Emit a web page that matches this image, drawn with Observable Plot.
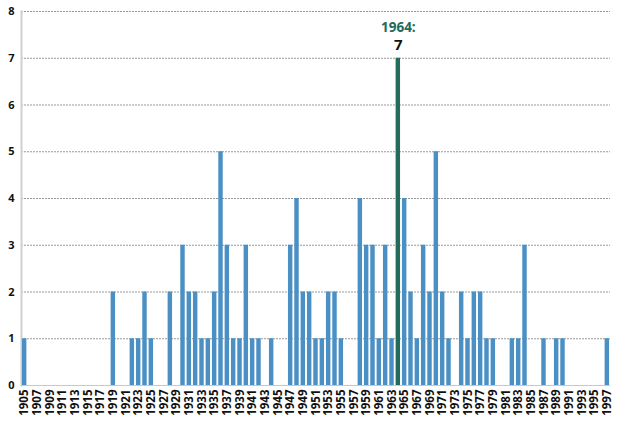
<!DOCTYPE html>
<html>
<head>
<meta charset="utf-8">
<script src="https://cdn.jsdelivr.net/npm/d3@7"></script>
<script src="https://cdn.jsdelivr.net/npm/@observablehq/plot@0.6"></script>
<style>
  html, body { margin: 0; padding: 0; background: #fff; }
  #chart svg { display: block; }
</style>
</head>
<body>
<div id="chart"></div>
<script>
const years = [
  1905, 1906, 1907, 1908, 1909, 1910, 1911, 1912, 1913, 1914,
  1915, 1916, 1917, 1918, 1919, 1920, 1921, 1922, 1923, 1924,
  1925, 1926, 1927, 1928, 1929, 1930, 1931, 1932, 1933, 1934,
  1935, 1936, 1937, 1938, 1939, 1940, 1941, 1942, 1943, 1944,
  1945, 1946, 1947, 1948, 1949, 1950, 1951, 1952, 1953, 1954,
  1955, 1956, 1957, 1958, 1959, 1960, 1961, 1962, 1963, 1964,
  1965, 1966, 1967, 1968, 1969, 1970, 1971, 1972, 1973, 1974,
  1975, 1976, 1977, 1978, 1979, 1980, 1981, 1982, 1983, 1984,
  1985, 1986, 1987, 1988, 1989, 1990, 1991, 1992, 1993, 1994,
  1995, 1996, 1997
];
const counts = [
  1, 0, 0, 0, 0, 0, 0, 0, 0, 0,
  0, 0, 0, 0, 2, 0, 0, 1, 1, 2,
  1, 0, 0, 2, 0, 3, 2, 2, 1, 1,
  2, 5, 3, 1, 1, 3, 1, 1, 0, 1,
  0, 0, 3, 4, 2, 2, 1, 1, 2, 2,
  1, 0, 0, 4, 3, 3, 1, 3, 1, 7,
  4, 2, 1, 3, 2, 5, 2, 1, 0, 2,
  1, 2, 2, 1, 1, 0, 0, 1, 1, 3,
  0, 0, 1, 0, 1, 1, 0, 0, 0, 0,
  0, 0, 1
];
const yTicks = [0, 1, 2, 3, 4, 5, 6, 7, 8];
const xTickLabels = years.filter(y => y % 2 === 1);
const highlightYear = [1964];
const highlightValue = [7];

const blue = "#4a90c4";
const green = "#236b5b";

const data = years.map((y, i) => ({year: y, count: counts[i]}));
const note = highlightYear.map((y, i) => ({year: y, count: highlightValue[i]}));

const chart = Plot.plot({
  width: 620,
  height: 421,
  marginTop: 11,
  marginLeft: 21,
  marginRight: 10,
  marginBottom: 36,
  style: {fontFamily: "'Open Sans', Lato, sans-serif", fontWeight: "bold", color: "#111", background: "#fff"},
  x: {type: "band", domain: years, paddingInner: 0.3, paddingOuter: 0.15},
  y: {domain: [0, 8]},
  marks: [
    Plot.gridY(yTicks, {stroke: "#999", strokeOpacity: 1, strokeDasharray: "2,1"}),
    Plot.frame({anchor: "left", stroke: "#d0d0d0", strokeWidth: 2}),
    Plot.ruleY([0], {stroke: "#c8c8c8"}),
    Plot.barY(data, {x: "year", y: "count", fill: d => d.year === highlightYear[0] ? green : blue}),
    Plot.axisY(yTicks, {tickSize: 0, tickPadding: 7, fontSize: 11, fontWeight: "bold", tickFormat: d => d, label: null}),
    Plot.axisX(xTickLabels, {tickSize: 0, tickPadding: 4, tickRotate: -90, fontSize: 11.5, fontWeight: "bold", tickFormat: d => String(d), label: null}),
    Plot.text(note, {x: "year", y: "count", text: d => d.year + ":", dy: -31, fill: green, fontSize: 13.5, fontWeight: "bold"}),
    Plot.text(note, {x: "year", y: "count", text: d => String(d.count), dy: -13, fill: "#111", fontSize: 15, fontWeight: "bold"})
  ]
});
document.getElementById("chart").appendChild(chart);
</script>
</body>
</html>
